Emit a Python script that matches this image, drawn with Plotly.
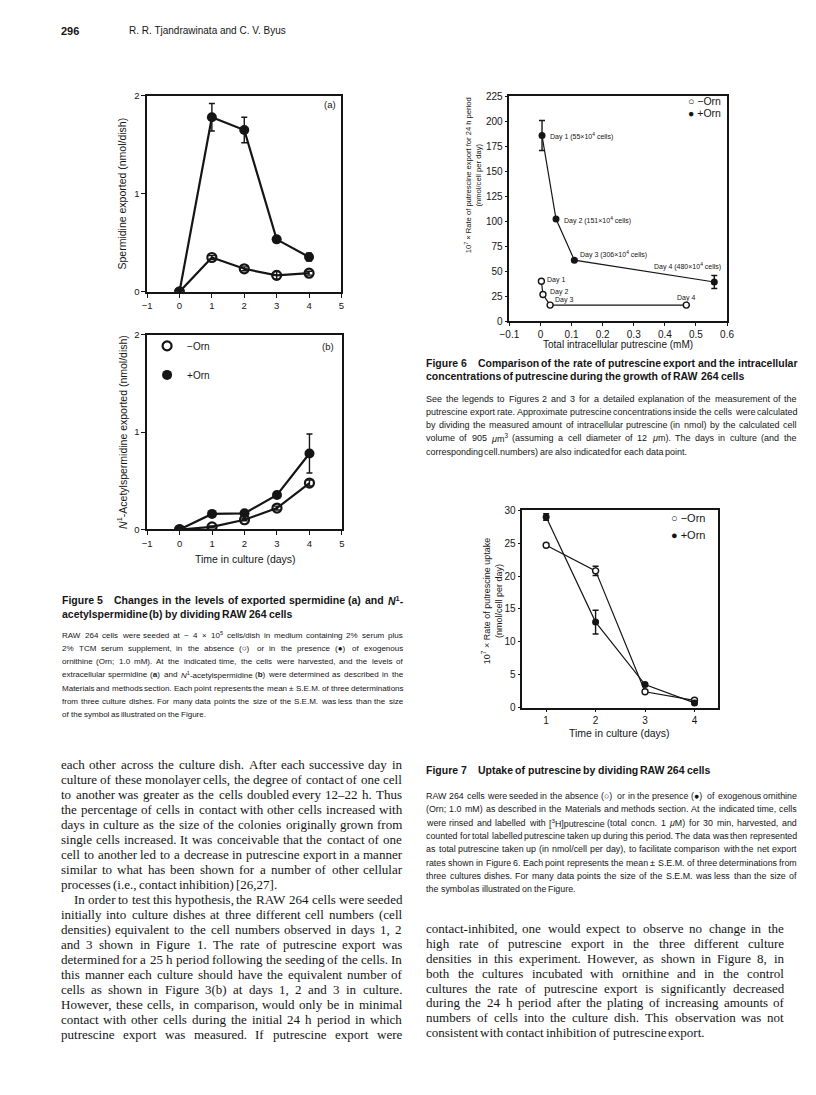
import re
import plotly.graph_objects as go

# ---------------- data (read from the scanned page) ----------------
days_5 = [0, 1, 2, 3, 4]
spermidine_minus = [0.0, 0.35, 0.235, 0.168, 0.19]
spermidine_minus_sem = [0.0, 0.02, 0.02, 0.04, 0.02]
spermidine_plus = [0.0, 1.78, 1.65, 0.535, 0.355]
spermidine_plus_sem = [0.0, 0.14, 0.13, 0.03, 0.04]

acetylspd_minus = [0.0, 0.027, 0.10, 0.22, 0.477]
acetylspd_minus_sem = [0.0, 0.01, 0.01, 0.02, 0.03]
acetylspd_plus = [0.0, 0.16, 0.166, 0.355, 0.78]
acetylspd_plus_sem = [0.0, 0.02, 0.02, 0.02, 0.20]

putr_conc_minus = [0.003, 0.008, 0.031, 0.469]
export_rate_minus = [39.9, 26.7, 16.1, 16.1]
putr_conc_plus = [0.005, 0.050, 0.109, 0.559]
export_rate_plus = [185.5, 102.0, 61.0, 39.2]
export_rate_plus_sem = [15.0, 1.0, 1.0, 6.5]
labels_minus = ["Day 1", "Day 2", "Day 3", "Day 4"]
labels_plus = ["Day 1 (55×10<sup>4</sup> cells)", "Day 2 (151×10<sup>4</sup> cells)",
               "Day 3 (306×10<sup>4</sup> cells)", "Day 4 (480×10<sup>4</sup> cells)"]

days_7 = [1, 2, 3, 4]
uptake_minus = [24.7, 20.8, 2.4, 1.1]
uptake_minus_sem = [0.2, 0.7, 0.2, 0.2]
uptake_plus = [29.0, 13.0, 3.5, 0.7]
uptake_plus_sem = [0.5, 1.8, 0.2, 0.2]

series_names = ["\u2212Orn", "+Orn"]

# ---------------- page text ----------------
header_page = "296"
header_authors = "R. R. Tjandrawinata and C. V. Byus"

fig5_title = ["Changes in the levels of exported spermidine (a) and <i>N</i><sup>1</sup>-",
              "acetylspermidine (b) by dividing RAW 264 cells"]
fig5_body = [
    "RAW 264 cells were seeded at ~ 4 × 10<sup>5</sup> cells/dish in medium containing 2% serum plus",
    "2% TCM serum supplement, in the absence (○) or in the presence (●) of exogenous",
    "ornithine (Orn; 1.0 mM). At the indicated time, the cells were harvested, and the levels of",
    "extracellular spermidine (<b>a</b>) and <i>N</i><sup>1</sup>-acetylspermidine (<b>b</b>) were determined as described in the",
    "Materials and methods section. Each point represents the mean ± S.E.M. of three determinations",
    "from three culture dishes. For many data points the size of the S.E.M. was less than the size",
    "of the symbol as illustrated on the Figure.",
]
fig6_title = ["Comparison of the rate of putrescine export and the intracellular",
              "concentrations of putrescine during the growth of RAW 264 cells"]
fig6_body = [
    "See the legends to Figures 2 and 3 for a detailed explanation of the measurement of the",
    "putrescine export rate. Approximate putrescine concentrations inside the cells were calculated",
    "by dividing the measured amount of intracellular putrescine (in nmol) by the calculated cell",
    "volume of 905 <i>μ</i>m<sup>3</sup> (assuming a cell diameter of 12 <i>μ</i>m). The days in culture (and the",
    "corresponding cell.numbers) are also indicated for each data point.",
]
fig7_title = ["Uptake of putrescine by dividing RAW 264 cells"]
fig7_body = [
    "RAW 264 cells were seeded in the absence (○) or in the presence (●) of exogenous ornithine",
    "(Orn; 1.0 mM) as described in the Materials and methods section. At the indicated time, cells",
    "were rinsed and labelled with [<sup>3</sup>H]putrescine (total concn. 1 <i>μ</i>M) for 30 min, harvested, and",
    "counted for total labelled putrescine taken up during this period. The data was then represented",
    "as total putrescine taken up (in nmol/cell per day), to facilitate comparison with the net export",
    "rates shown in Figure 6. Each point represents the mean ± S.E.M. of three determinations from",
    "three cultures dishes. For many data points the size of the S.E.M. was less than the size of",
    "the symbol as illustrated on the Figure.",
]
body_left = [
    "each other across the culture dish. After each successive day in",
    "culture of these monolayer cells, the degree of contact of one cell",
    "to another was greater as the cells doubled every 12–22 h. Thus",
    "the percentage of cells in contact with other cells increased with",
    "days in culture as the size of the colonies originally grown from",
    "single cells increased. It was conceivable that the contact of one",
    "cell to another led to a decrease in putrescine export in a manner",
    "similar to what has been shown for a number of other cellular",
    "processes (i.e., contact inhibition) [26,27].",
    "In order to test this hypothesis, the RAW 264 cells were seeded",
    "initially into culture dishes at three different cell numbers (cell",
    "densities) equivalent to the cell numbers observed in days 1, 2",
    "and 3 shown in Figure 1. The rate of putrescine export was",
    "determined for a 25 h period following the seeding of the cells. In",
    "this manner each culture should have the equivalent number of",
    "cells as shown in Figure 3(b) at days 1, 2 and 3 in culture.",
    "However, these cells, in comparison, would only be in minimal",
    "contact with other cells during the initial 24 h period in which",
    "putrescine export was measured. If putrescine export were",
]
body_right = [
    "contact-inhibited, one would expect to observe no change in the",
    "high rate of putrescine export in the three different culture",
    "densities in this experiment. However, as shown in Figure 8, in",
    "both the cultures incubated with ornithine and in the control",
    "cultures the rate of putrescine export is significantly decreased",
    "during the 24 h period after the plating of increasing amounts of",
    "numbers of cells into the culture dish. This observation was not",
    "consistent with contact inhibition of putrescine export.",
]

# ---------------- page geometry / style ----------------
W, H = 816, 1095
INK = "#151515"
SERIF = "Liberation Serif, Times New Roman, serif"
SANS = "Liberation Sans, Arial, Helvetica, sans-serif"
SCALE = 1.0


def px(x):
    return x / W


def py(y):
    return 1 - y / H


TIMES = {' ': 250, '.': 250, ',': 250, '(': 333, ')': 333, '-': 333, '–': 500, '[': 333, ']': 333,
         ':': 278, ';': 278}
for c, w in zip("abcdefghijklmnopqrstuvwxyz",
                [444, 500, 444, 500, 444, 333, 500, 500, 278, 278, 500, 278, 778, 500, 500, 500, 500,
                 333, 389, 278, 500, 500, 722, 500, 500, 444]):
    TIMES[c] = w
for c, w in zip("ABCDEFGHIJKLMNOPQRSTUVWXYZ",
                [722, 667, 667, 722, 611, 556, 722, 722, 333, 389, 722, 611, 889, 722, 722, 556, 722,
                 667, 556, 611, 722, 722, 944, 722, 722, 611]):
    TIMES[c] = w
for c in "0123456789":
    TIMES[c] = 500

HELV = {' ': 278, '.': 278, ',': 278, '(': 333, ')': 333, '-': 333, '%': 889, '[': 278, ']': 278,
        '/': 278, ';': 278, ':': 278, '±': 584, '×': 584, '~': 584, 'μ': 576, '○': 870, '●': 870}
for c, w in zip("abcdefghijklmnopqrstuvwxyz",
                [556, 556, 500, 556, 556, 278, 556, 556, 222, 222, 500, 222, 833, 556, 556, 556, 556,
                 333, 500, 278, 556, 500, 722, 500, 500, 500]):
    HELV[c] = w
for c, w in zip("ABCDEFGHIJKLMNOPQRSTUVWXYZ",
                [667, 667, 722, 722, 667, 611, 778, 722, 278, 500, 667, 556, 833, 722, 778, 667, 778,
                 722, 667, 611, 722, 667, 944, 667, 667, 611]):
    HELV[c] = w
for c in "0123456789":
    HELV[c] = 556
HELV_B = dict(HELV)
for c, w in zip("abcdefghijklmnopqrstuvwxyz",
                [556, 611, 556, 611, 556, 333, 611, 611, 278, 278, 556, 278, 889, 611, 611, 611, 611,
                 389, 556, 333, 611, 556, 778, 556, 556, 500]):
    HELV_B[c] = w
for c, w in zip("ABCDEFGHIJKLMNOPQRSTUVWXYZ",
                [722, 722, 722, 722, 667, 611, 778, 722, 278, 556, 722, 611, 833, 722, 778, 667, 778,
                 722, 667, 611, 722, 667, 944, 667, 667, 611]):
    HELV_B[c] = w
HELV_B['('] = 333
HELV_B[')'] = 333


def text_em(s, table):
    total, sup = 0.0, False
    for part in re.split(r'(<[^>]+>)', s):
        if part.startswith('<'):
            if part.lower() == '<sup>':
                sup = True
            elif part.lower() == '</sup>':
                sup = False
            continue
        for ch in part:
            total += table.get(ch, 520) * (0.7 if sup else 1.0)
    return total / 1000.0


annotations = []


def ann(x, y, text, size, family=SANS, xanchor='left', yanchor='middle', angle=0, color=INK):
    annotations.append(dict(x=px(x), y=py(y), xref='paper', yref='paper', text=text, showarrow=False,
                            xanchor=xanchor, yanchor=yanchor, textangle=angle, borderpad=0,
                            borderwidth=0, font=dict(family=family, size=size, color=color)))


def fit_size(lines, width, table, scale, nojust=(), indents=None):
    indents = indents or {}
    best = 99
    for i, line in enumerate(lines):
        if i in nojust:
            continue
        words = line.split(' ')
        nat = sum(text_em(w, table) for w in words) + (len(words) - 1) * table[' '] / 1000.0
        best = min(best, (width - indents.get(i, 0)) / (nat * scale))
    return best * 0.99


def paragraph(lines, x0, x1, y0, dy, size, family, table, scale, bold=False, nojust=(), indents=None):
    indents = indents or {}
    for i, line in enumerate(lines):
        y = y0 + i * dy
        words = line.split(' ')
        ws = [text_em(w, table) * size * scale for w in words]
        x = x0 + indents.get(i, 0)
        if i not in nojust and len(words) > 1:
            gap = (x1 - x - sum(ws)) / (len(words) - 1)
        else:
            gap = table[' '] / 1000.0 * size * scale
        for w, ww in zip(words, ws):
            ann(x, y, "<b>%s</b>" % w if bold else w, size, family)
            x += ww + gap


# ---------------- traces ----------------
fig = go.Figure()


def add_series(x, y, err, xa, ya, name, filled, msize, lw, show, open_fill, group):
    fig.add_trace(go.Scatter(x=x, y=y, mode='lines', xaxis=xa, yaxis=ya, showlegend=False,
                             line=dict(color=INK, width=lw), hoverinfo='skip'))
    if filled:
        marker = dict(symbol='circle', size=msize, color=INK, line=dict(color=INK, width=0))
    elif open_fill:
        marker = dict(symbol='circle', size=msize, color='white', line=dict(color=INK, width=1.4))
    else:
        marker = dict(symbol='circle-open', size=msize, color=INK, line=dict(color=INK, width=2.2))
    fig.add_trace(go.Scatter(x=x, y=y, mode='markers', xaxis=xa, yaxis=ya, name=name,
                             showlegend=show, legend='legend', legendgroup=group, marker=marker,
                             error_y=dict(type='data', array=err, visible=True, color=INK,
                                          thickness=1.4, width=3)))


# Figure 5a
add_series(days_5, spermidine_minus, spermidine_minus_sem, 'x', 'y', series_names[0], False, 9, 2.2,
           False, False, 'a1')
add_series(days_5, spermidine_plus, spermidine_plus_sem, 'x', 'y', series_names[1], True, 10, 2.2,
           False, False, 'a2')
# Figure 5b (carries the legend)
add_series(days_5, acetylspd_minus, acetylspd_minus_sem, 'x2', 'y2', series_names[0], False, 9, 2.2,
           True, False, 'b1')
add_series(days_5, acetylspd_plus, acetylspd_plus_sem, 'x2', 'y2', series_names[1], True, 10, 2.2,
           True, False, 'b2')
# Figure 6
add_series(putr_conc_minus, export_rate_minus, [0, 0, 0, 0], 'x3', 'y3', series_names[0], False, 6, 1.2,
           False, True, 'c1')
add_series(putr_conc_plus, export_rate_plus, export_rate_plus_sem, 'x3', 'y3', series_names[1], True, 7,
           1.2, False, False, 'c2')
# Figure 7
add_series(days_7, uptake_minus, uptake_minus_sem, 'x4', 'y4', series_names[0], False, 6, 1.2,
           False, True, 'd1')
add_series(days_7, uptake_plus, uptake_plus_sem, 'x4', 'y4', series_names[1], True, 7, 1.2,
           False, False, 'd2')


def axis(x_or_y, lo, hi, rng, dtick, fsize, ticklen=4, anchor=None):
    if x_or_y == 'x':
        dom = [px(lo), px(hi)]
    else:
        dom = [py(lo), py(hi)]
    return dict(domain=dom, range=rng, dtick=dtick, tick0=0, showline=True, linecolor=INK,
                linewidth=1.5, mirror=True, ticks='outside', ticklen=ticklen, tickwidth=1.3,
                tickcolor=INK, showgrid=False, zeroline=False, anchor=anchor, fixedrange=True,
                tickfont=dict(family=SANS, size=fsize, color=INK))


layout = dict(
    width=W, height=H, margin=dict(l=0, r=0, t=0, b=0), paper_bgcolor='white', plot_bgcolor='white',
    xaxis=axis('x', 140, 338.5, [-1, 5], 1, 9.5, 4, 'y'),
    yaxis=axis('y', 289, 90.7, [0, 2], 1, 9.5, 4, 'x'),
    xaxis2=axis('x', 140, 339, [-1, 5], 1, 9.5, 4, 'y2'),
    yaxis2=axis('y', 529.3, 332.3, [0, 2], 1, 9.5, 4, 'x2'),
    xaxis3=axis('x', 510, 732.3, [-0.1, 0.6], 0.1, 10, 3, 'y3'),
    yaxis3=axis('y', 318.7, 91, [0, 225], 25, 10, 3, 'x3'),
    xaxis4=axis('x', 523.3, 723.3, [0.52, 4.48], 1, 10, 3, 'y4'),
    yaxis4=axis('y', 709.3, 510, [0, 30], 5, 10, 3, 'x4'),
    legend=dict(x=px(140), y=py(329), xanchor='left', yanchor='top', bgcolor='rgba(0,0,0,0)',
                font=dict(family=SANS, size=10, color=INK), tracegroupgap=10, itemwidth=30),
    showlegend=True,
)

# ---------------- axis titles / in-chart text ----------------
ann(114, 190, "Spermidine exported (nmol/dish)", 10.5, SANS, 'center', 'middle', -90)
ann(327, 100, "(a)", 9.5, SANS, 'center')
ann(114, 431, "<i>N</i><sup>1</sup>-Acetylspermidine exported (nmol/dish)", 10.5, SANS, 'center', 'middle', -90)
ann(325, 344, "(b)", 9.5, SANS, 'center')
ann(240, 559, "Time in culture (days)", 10.5, SANS, 'center')

ann(473, 171, "10<sup>7</sup> × Rate of putrescine export for 24 h period<br>(nmol/cell per day)",
    7.6, SANS, 'center', 'middle', -90)
ann(621, 342, "Total intracellular putrescine (mM)", 10, SANS, 'center')

ann(492, 602, "10<sup>7</sup> × Rate of putrescine uptake<br>(nmol/cell per day)",
    9, SANS, 'center', 'middle', -90)
ann(622, 735, "Time in culture (days)", 10.5, SANS, 'center')

# key texts of Figures 6 and 7
ann(692, 96, "○ " + series_names[0], 10.5, SANS)
ann(692, 108.5, "● " + series_names[1], 10.5, SANS)
ann(675, 518, "○ " + series_names[0], 11, SANS)
ann(675, 534.5, "● " + series_names[1], 11, SANS)

# day labels in Figure 6 (anchored to the data points)
plus_off = [('left', 6, -1), ('left', 6, -1), ('left', 4, 6), ('right', 9, 15)]
minus_off = [('left', 4, 1), ('left', 5, 2), ('left', 3, 5), ('center', 0, 7)]
for xs, ys, labs, offs in [(putr_conc_plus, export_rate_plus, labels_plus, plus_off),
                           (putr_conc_minus, export_rate_minus, labels_minus, minus_off)]:
    for xv, yv, lab, (anc, dx, dy) in zip(xs, ys, labs, offs):
        annotations.append(dict(x=xv, y=yv, xref='x3', yref='y3', text=lab, showarrow=False,
                                xanchor=anc, yanchor='middle', xshift=dx, yshift=dy,
                                font=dict(family=SANS, size=7, color=INK)))

# ---------------- page text ----------------
ann(52, 25, "<b>%s</b>" % header_page, 11, SANS)
ann(122, 25, header_authors, 10, SANS)

LX0, LX1 = 53, 401
RX0, RX1, RCX1 = 425, 790, 803
CAP_DY = 13.4
FIG_INDENT = 53

# caption titles (bold sans)
tsize = min(fit_size(fig5_title, LX1 - LX0, HELV_B, SCALE, nojust=(1,), indents={0: FIG_INDENT}),
            fit_size(fig6_title, RCX1 - RX0, HELV_B, SCALE, nojust=(1,), indents={0: FIG_INDENT}))
for label, title, x0, x1, y0 in [("Figure 5", fig5_title, LX0, LX1, 601),
                                 ("Figure 6", fig6_title, RX0, RCX1, 361),
                                 ("Figure 7", fig7_title, RX0, RCX1, 772)]:
    ann(x0, y0, "<b>%s</b>" % label, tsize, SANS)
    paragraph(title, x0, x1, y0, CAP_DY, tsize, SANS, HELV_B, SCALE, bold=True,
              nojust=(len(title) - 1,), indents={0: FIG_INDENT})

# caption bodies
for body, x0, x1, y0 in [(fig5_body, LX0, LX1, 636), (fig6_body, RX0, RCX1, 397),
                         (fig7_body, RX0, RCX1, 799)]:
    s = fit_size(body, x1 - x0, HELV, SCALE, nojust=(len(body) - 1,))
    paragraph(body, x0, x1, y0, CAP_DY, s, SANS, HELV, SCALE, nojust=(len(body) - 1,))

# running text (serif)
bsize = min(fit_size(body_left, LX1 - 1 - LX0, TIMES, 1.0, nojust=(8,), indents={9: 13}),
            fit_size(body_right, RX1 - RX0, TIMES, 1.0, nojust=(7,)))
paragraph(body_left, LX0 - 1, LX1 - 1, 767, 15.15, bsize, SERIF, TIMES, 1.0, nojust=(8,), indents={9: 13})
paragraph(body_right, RX0, RX1, 933, 15.0, bsize, SERIF, TIMES, 1.0, nojust=(7,))

layout['annotations'] = annotations
fig.update_layout(**layout)
fig.write_html("out.html", config={'displayModeBar': False},
               post_script="document.body.style.margin='0px';document.body.style.overflow='hidden';")
